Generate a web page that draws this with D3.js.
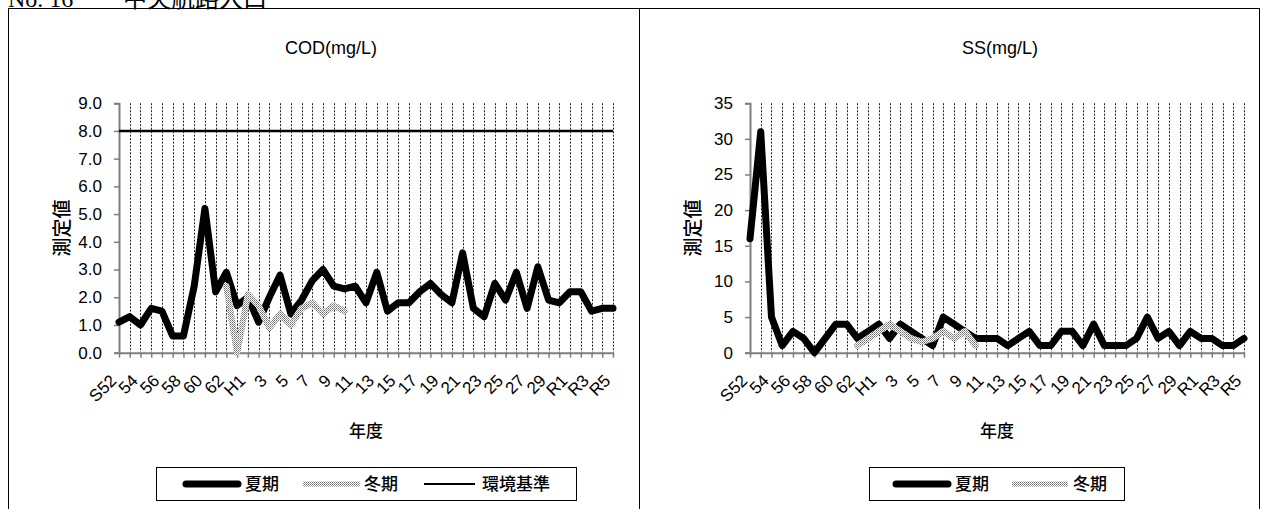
<!DOCTYPE html>
<html>
<head>
<meta charset="utf-8">
<script src="https://cdn.jsdelivr.net/npm/d3@7"></script>
<style>
  body { margin: 0; background: #fff; }
  text { font-family: "Liberation Sans", Arial, "Noto Sans CJK JP", sans-serif; fill: #000; }
  .jp { font-family: "Noto Sans CJK JP", "Liberation Sans", sans-serif; }
  .serif { font-family: "Liberation Serif", "DejaVu Serif", "Noto Sans CJK JP", serif; }
</style>
</head>
<body>
<svg id="chart" width="1261" height="509"></svg>
<script>
// Survey years, S52 (1977) through R5 (2023)
const years = [
  "S52","S53","S54","S55","S56","S57","S58","S59","S60","S61","S62","S63",
  "H1","H2","H3","H4","H5","H6","H7","H8","H9","H10","H11","H12","H13","H14","H15",
  "H16","H17","H18","H19","H20","H21","H22","H23","H24","H25","H26","H27","H28","H29","H30",
  "R1","R2","R3","R4","R5"
];
// Labels printed on every second year
const tickLabels = ["S52","54","56","58","60","62","H1","3","5","7","9","11","13","15",
  "17","19","21","23","25","27","29","R1","R3","R5"];

// COD (mg/L)
const codSummer = [1.1,1.3,1.0,1.6,1.5,0.6,0.6,2.4,5.2,2.2,2.9,1.7,
  2.0,1.1,2.0,2.8,1.4,1.9,2.6,3.0,2.4,2.3,2.4,1.8,2.9,1.5,1.8,
  1.8,2.2,2.5,2.1,1.8,3.6,1.6,1.3,2.5,1.9,2.9,1.6,3.1,1.9,1.8,
  2.2,2.2,1.5,1.6,1.6];
const codWinter = [null,null,null,null,null,null,null,null,null,null,2.4,0.0,
  2.1,1.7,0.9,1.4,1.0,1.6,1.8,1.4,1.7,1.5,null,null,null,null,null,
  null,null,null,null,null,null,null,null,null,null,null,null,null,null,null,
  null,null,null,null,null];
const codStandard = 8.0;
const codTicks = [0,1,2,3,4,5,6,7,8,9];

// SS (mg/L)
const ssSummer = [16,31,5,1,3,2,0,2,4,4,2,3,
  4,2,4,3,2,1,5,4,3,2,2,2,1,2,3,
  1,1,3,3,1,4,1,1,1,2,5,2,3,1,3,
  2,2,1,1,2];
const ssWinter = [null,null,null,null,null,null,null,null,null,null,1,2,
  3,4,3,2,1.5,2,3,2,3,1,null,null,null,null,null,
  null,null,null,null,null,null,null,null,null,null,null,null,null,null,null,
  null,null,null,null,null];
const ssTicks = [0,5,10,15,20,25,30,35];

const svg = d3.select("#chart");
svg.append("rect").attr("width", 1261).attr("height", 509).attr("fill", "#fff");

// Dotted fill used for the winter series
const defs = svg.append("defs");
const pat = defs.append("pattern").attr("id", "dots")
  .attr("patternUnits", "userSpaceOnUse").attr("width", 2).attr("height", 2);
pat.append("rect").attr("width", 2).attr("height", 2).attr("fill", "#fff");
pat.append("rect").attr("width", 1).attr("height", 1).attr("fill", "#6e6e6e");
pat.append("rect").attr("x", 1).attr("y", 1).attr("width", 1).attr("height", 1).attr("fill", "#9a9a9a");

// Page header (station name), running off the top of the sheet
svg.append("text").attr("class", "serif").attr("x", 8).attr("y", 7)
  .style("font-size", "24px").text("No. 16");
svg.append("text").attr("class", "serif").attr("x", 123).attr("y", 7)
  .style("font-size", "24px").text("中央航路入口");

// Panel frames
svg.append("rect").attr("x", 8.5).attr("y", 8.5).attr("width", 631).attr("height", 520)
  .attr("fill", "none").attr("stroke", "#000").attr("stroke-width", 1);
svg.append("rect").attr("x", 639.5).attr("y", 8.5).attr("width", 620).attr("height", 520)
  .attr("fill", "none").attr("stroke", "#000").attr("stroke-width", 1);

function drawPanel(cfg) {
  const g = svg.append("g");
  const x = d3.scalePoint().domain(years).range([cfg.left, cfg.left + 494]);
  const y = d3.scaleLinear().domain([0, cfg.max]).range([352.7, 103.2]);

  // Title
  g.append("text").attr("x", cfg.titleX).attr("y", 54).attr("text-anchor", "middle")
    .style("font-size", "18px").text(cfg.title);

  // Vertical dashed gridlines at each year
  g.append("g").selectAll("line").data(years.slice(1)).join("line")
    .attr("x1", d => Math.round(x(d)) + 0.5).attr("x2", d => Math.round(x(d)) + 0.5)
    .attr("y1", y(cfg.max)).attr("y2", y(0))
    .attr("stroke", "#222").attr("stroke-width", 1).attr("stroke-dasharray", "2,1.5");

  // Y axis
  const yAxis = g.append("g").attr("transform", `translate(${cfg.left},0)`)
    .call(d3.axisLeft(y).tickValues(cfg.ticks).tickFormat(cfg.fmt).tickSize(5).tickPadding(12));
  yAxis.select(".domain").attr("stroke", "#7f7f7f").attr("stroke-width", 2);
  yAxis.selectAll(".tick line").attr("stroke", "#7f7f7f").attr("stroke-width", 1.5);
  yAxis.selectAll("text").style("font-size", "17px").attr("fill", "#000")
    .style("font-family", "Liberation Sans, Arial, sans-serif");

  // X axis
  const labelOf = d => { const i = years.indexOf(d); return i % 2 === 0 ? tickLabels[i / 2] : ""; };
  const xAxis = g.append("g").attr("transform", `translate(0,${y(0)})`)
    .call(d3.axisBottom(x).tickFormat(labelOf).tickSize(5).tickSizeOuter(0));
  xAxis.select(".domain").attr("stroke", "#7f7f7f").attr("stroke-width", 2);
  xAxis.selectAll(".tick line").attr("stroke", "#7f7f7f").attr("stroke-width", 1.5);
  xAxis.selectAll("text").style("font-size", "17px").attr("fill", "#000")
    .style("font-family", "Liberation Sans, Arial, sans-serif")
    .attr("text-anchor", "end").attr("dy", 0).attr("y", 0)
    .attr("transform", "translate(-2,29) rotate(-45)");

  // Axis titles
  g.append("text").attr("class", "jp")
    .attr("transform", `translate(${cfg.yTitleX},${(y(0) + y(cfg.max)) / 2}) rotate(-90)`)
    .attr("text-anchor", "middle").attr("dy", "0.35em")
    .style("font-size", "19px").style("font-weight", 500).text("測定値");
  g.append("text").attr("class", "jp")
    .attr("x", cfg.left + 247).attr("y", 437).attr("text-anchor", "middle")
    .style("font-size", "17px").style("font-weight", 500).text("年度");

  const line = d3.line().defined(d => d.v != null)
    .x(d => x(d.k)).y(d => y(d.v));
  const pts = arr => arr.map((v, i) => ({ k: years[i], v }));

  // Environmental standard
  if (cfg.standard != null) {
    g.append("path").datum(years.map(k => ({ k, v: cfg.standard })))
      .attr("d", line).attr("fill", "none").attr("stroke", "#000").attr("stroke-width", 2.5);
  }
  // Summer
  g.append("path").datum(pts(cfg.summer)).attr("d", line)
    .attr("fill", "none").attr("stroke", "#000").attr("stroke-width", 7)
    .attr("stroke-linejoin", "round").attr("stroke-linecap", "round");
  // Winter
  g.append("path").datum(pts(cfg.winter)).attr("d", line)
    .attr("fill", "none").attr("stroke", "url(#dots)").attr("stroke-width", 6.5)
    .attr("stroke-linejoin", "round").attr("stroke-linecap", "round");

  // Legend
  const L = cfg.legend;
  g.append("rect").attr("x", L.x + 0.5).attr("y", 467.5).attr("width", L.w).attr("height", 33)
    .attr("fill", "#fff").attr("stroke", "#000").attr("stroke-width", 1);
  const ly = 484;
  L.items.forEach(it => {
    const ln = g.append("line").attr("x1", it.x1).attr("x2", it.x2).attr("y1", ly).attr("y2", ly);
    if (it.kind === "summer") ln.attr("stroke", "#000").attr("stroke-width", 7).attr("stroke-linecap", "round");
    else if (it.kind === "winter") ln.attr("stroke", "url(#dots)").attr("stroke-width", 5);
    else ln.attr("stroke", "#000").attr("stroke-width", 2);
    g.append("text").attr("class", "jp").attr("x", it.tx).attr("y", ly).attr("dy", "0.36em")
      .style("font-size", "17px").style("font-weight", 500).text(it.label);
  });
}

drawPanel({
  title: "COD(mg/L)", titleX: 331, left: 119, max: 9, ticks: codTicks,
  fmt: d3.format(".1f"), yTitleX: 62,
  summer: codSummer, winter: codWinter, standard: codStandard,
  legend: { x: 156, w: 420, items: [
    { kind: "summer", x1: 186, x2: 238, tx: 245, label: "夏期" },
    { kind: "winter", x1: 303, x2: 360, tx: 364, label: "冬期" },
    { kind: "std", x1: 424, x2: 475, tx: 482, label: "環境基準" }
  ]}
});

drawPanel({
  title: "SS(mg/L)", titleX: 1000, left: 750, max: 35, ticks: ssTicks,
  fmt: d3.format("d"), yTitleX: 693,
  summer: ssSummer, winter: ssWinter, standard: null,
  legend: { x: 869, w: 255, items: [
    { kind: "summer", x1: 896, x2: 948, tx: 955, label: "夏期" },
    { kind: "winter", x1: 1012, x2: 1068, tx: 1073, label: "冬期" }
  ]}
});
</script>
</body>
</html>
